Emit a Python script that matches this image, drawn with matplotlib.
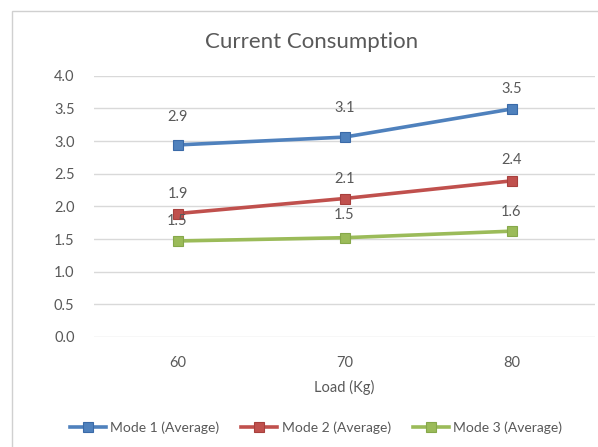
import matplotlib
matplotlib.use("Agg")
import matplotlib.pyplot as plt
from matplotlib.patches import Rectangle
from matplotlib.lines import Line2D

plt.rcParams['font.family'] = ['Lato', 'DejaVu Sans']

loads = ["60", "70", "80"]
mode1 = [2.94, 3.06, 3.49]
mode2 = [1.89, 2.12, 2.39]
mode3 = [1.47, 1.52, 1.62]
series_names = ["Mode 1 (Average)", "Mode 2 (Average)", "Mode 3 (Average)"]
yticks = [0.0, 0.5, 1.0, 1.5, 2.0, 2.5, 3.0, 3.5, 4.0]

colors = ["#4F81BD", "#C0504D", "#9BBB59"]
edge_colors = ["#3A6AA8", "#A8403D", "#86A84A"]
txt = "#595959"
label_offsets = [[28, 29, 20], [20, 20, 21], [20, 23, 19]]

W, H = 598, 447
fig = plt.figure(figsize=(W / 100, H / 100), dpi=100)
fig.patch.set_facecolor("white")

# chart border
fig.add_artist(Rectangle((12 / W, -0.05), 1.2, 1 - 11 / H + 0.05,
                         transform=fig.transFigure, fill=False,
                         edgecolor="#D0D0D0", linewidth=1.0))

ax = fig.add_axes([94 / W, 1 - 337 / H, (595 - 94) / W, (337 - 75.7) / H])
ax.set_facecolor("none")
x = list(range(len(loads)))
for i, (vals, name) in enumerate(zip([mode1, mode2, mode3], series_names)):
    ax.plot(x, vals, color=colors[i], linewidth=2.6, marker="s", markersize=6.5,
            markerfacecolor=colors[i], markeredgecolor=edge_colors[i],
            markeredgewidth=0.8, label=name, zorder=3)
    for j, v in enumerate(vals):
        ax.annotate(f"{v:.1f}", (x[j], v), xytext=(0, label_offsets[i][j]),
                    textcoords="offset pixels", ha="center", va="center",
                    fontsize=10.5, color=txt, zorder=4)

ax.set_xlim(-0.5, len(loads) - 0.5)
ax.set_ylim(0, 4.0)
ax.set_yticks(yticks)
ax.set_yticklabels([f"{t:.1f}" for t in yticks])
ax.set_xticks(x)
ax.set_xticklabels(loads)
ax.grid(axis="y", color="#D9D9D9", linewidth=1.0)
ax.set_axisbelow(True)
for s in ax.spines.values():
    s.set_visible(False)
ax.tick_params(axis="both", length=0, labelsize=10.5, labelcolor=txt)
ax.tick_params(axis="y", pad=14)
ax.tick_params(axis="x", pad=14)
ax.set_xlabel("Load (Kg)", fontsize=10.5, color=txt, labelpad=7)

fig.text(312 / W, 1 - 42 / H, "Current Consumption", ha="center", va="center",
         fontsize=16, color=txt)

handles = [Line2D([0], [0], color=colors[i], linewidth=2.6, marker="s",
                  markersize=6.5, markerfacecolor=colors[i],
                  markeredgecolor=edge_colors[i], markeredgewidth=0.8)
           for i in range(3)]
leg = fig.legend(handles, series_names, loc="center", ncol=3,
                 bbox_to_anchor=(316 / W, 1 - 428 / H), frameon=False,
                 fontsize=10, handlelength=2.6, columnspacing=1.6,
                 handletextpad=0.3)
for t in leg.get_texts():
    t.set_color(txt)

fig.savefig("out.png", dpi=100)
